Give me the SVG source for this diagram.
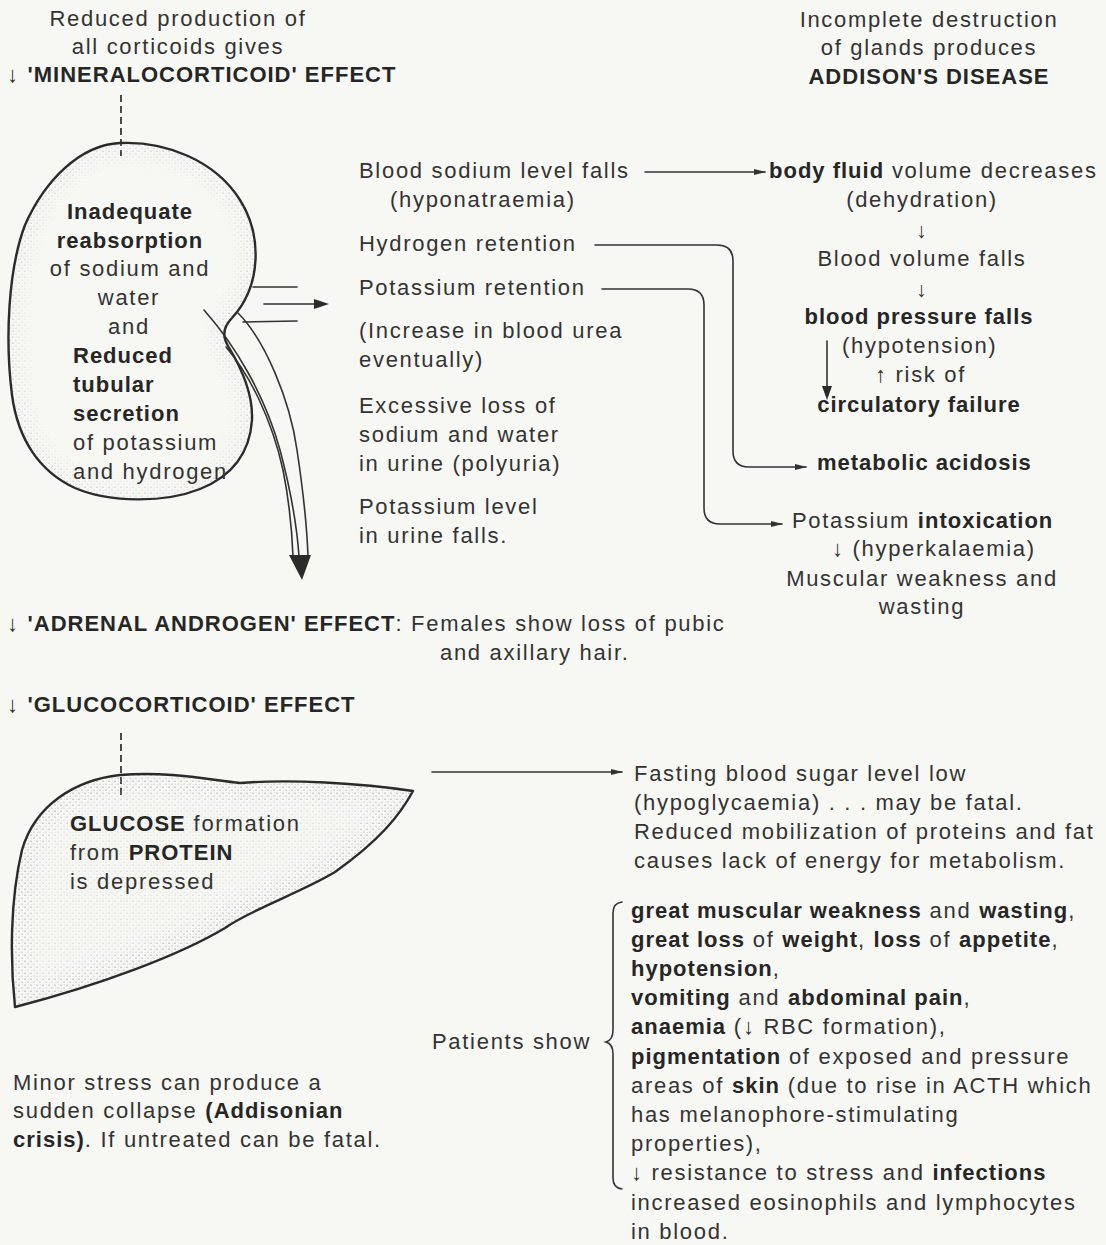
<svg xmlns="http://www.w3.org/2000/svg" width="1106" height="1245" viewBox="0 0 1106 1245">
  <defs>
    <style>
      text { font-family: "Liberation Sans", Arial, Helvetica, sans-serif; font-size: 22px; fill: #333; letter-spacing: 1.7px; }
      .b { font-weight: bold; letter-spacing: 1px; fill: #262626; }
      .c { text-anchor: middle; }
      .ln { fill: none; stroke: #333; stroke-width: 1.6; stroke-linecap: round; }
      .organ { stroke: #2b2b2b; stroke-width: 2.4; stroke-linejoin: round; }
      .dash { fill: none; stroke: #383838; stroke-width: 1.8; stroke-dasharray: 7 4; }
    </style>
    <pattern id="stipple" width="6" height="6" patternUnits="userSpaceOnUse">
      <circle cx="1" cy="1.2" r="0.6" fill="#8a8a8a"/>
      <circle cx="4" cy="4.1" r="0.55" fill="#9a9a9a"/>
      <circle cx="4.3" cy="0.9" r="0.4" fill="#b0b0b0"/>
      <circle cx="1.5" cy="4.6" r="0.4" fill="#b5b5b5"/>
    </pattern>
    <filter id="soft" x="-20%" y="-20%" width="140%" height="140%">
      <feGaussianBlur stdDeviation="8"/>
    </filter>
    <marker id="ah" viewBox="0 0 12 8" refX="11" refY="4" markerWidth="12" markerHeight="8" markerUnits="userSpaceOnUse" orient="auto">
      <path d="M0 1 L12 4 L0 7 Z" fill="#333"/>
    </marker>
    <!-- outline shapes reused for fill, edge-shading mask and stroke -->
    <path id="kidneyShape" d="M120 143 C165 141 215 160 240 200 C262 235 262 285 232 318 C224 326 222 336 228 346 C244 372 253 398 252 420 C250 450 235 475 200 489 C165 503 110 503 75 488 C40 472 18 440 12 395 C5 340 8 270 25 225 C45 180 80 145 120 143 Z"/>
    <path id="liverShape" d="M15 1007 C10 960 10 900 22 850 C35 805 75 780 120 775 C170 771 210 780 240 783 C290 779 360 783 413 791 C400 815 380 840 335 872 C300 893 250 910 225 928 C180 955 100 985 15 1007 Z"/>
    <mask id="kidneyEdge" maskUnits="userSpaceOnUse" x="0" y="100" width="340" height="440">
      <use href="#kidneyShape" fill="none" stroke="#bbb" stroke-width="26" filter="url(#soft)"/>
    </mask>
    <mask id="liverEdge" maskUnits="userSpaceOnUse" x="0" y="740" width="450" height="300">
      <use href="#liverShape" fill="#666"/>
      <use href="#liverShape" fill="none" stroke="#fff" stroke-width="40" filter="url(#soft)"/>
    </mask>
    <clipPath id="kidneyClip"><use href="#kidneyShape"/></clipPath>
    <clipPath id="liverClip"><use href="#liverShape"/></clipPath>
  </defs>

  <rect width="1106" height="1245" fill="#f7f7f4"/>

  <!-- headings -->
  <g id="heading-left">
    <text class="c" x="178" y="26">Reduced production of</text>
    <text class="c" x="178" y="54">all corticoids gives</text>
    <text x="7" y="82">↓ <tspan class="b">'MINERALOCORTICOID' EFFECT</tspan></text>
  </g>
  <g id="heading-right">
    <text class="c" x="929" y="27">Incomplete destruction</text>
    <text class="c" x="929" y="55">of glands produces</text>
    <text class="c b" x="929" y="84">ADDISON'S DISEASE</text>
  </g>

  <!-- kidney -->
  <g id="kidney">
    <line class="dash" x1="121" y1="95" x2="121" y2="156"/>
    <rect x="0" y="130" width="300" height="390" fill="url(#stipple)" clip-path="url(#kidneyClip)" mask="url(#kidneyEdge)"/>
    <use href="#kidneyShape" class="organ" fill="none"/>
    <!-- ureter -->
    <path class="ln" d="M238 313 C265 340 290 400 297 450 C303 490 307 528 308 556"/>
    <path class="ln" d="M204 310 C235 345 265 395 280 450 C292 495 297 528 299 556" stroke-width="3.2"/>
    <path class="ln" d="M226 347 C250 375 272 420 283 470 C290 505 292 532 293 556"/>
    <path d="M289 555 L311 555 L302 580 Z" fill="#2b2b2b"/>
    <!-- vessels at the hilum -->
    <line class="ln" x1="253" y1="287" x2="297" y2="287"/>
    <line class="ln" x1="243" y1="322" x2="297" y2="321"/>
    <line class="ln" x1="264" y1="304" x2="316" y2="304" stroke-width="3"/>
    <path d="M314 299 L329 304 L314 309 Z" fill="#2b2b2b"/>
    <text class="c b" x="130" y="219">Inadequate</text>
    <text class="c b" x="130" y="248">reabsorption</text>
    <text class="c" x="130" y="276">of sodium and</text>
    <text class="c" x="129" y="305">water</text>
    <text class="c" x="129" y="334">and</text>
    <text class="b" x="73" y="363">Reduced</text>
    <text class="b" x="73" y="392">tubular</text>
    <text class="b" x="73" y="421">secretion</text>
    <text x="73" y="450">of potassium</text>
    <text x="73" y="479">and hydrogen</text>
  </g>

  <!-- renal effects -->
  <g id="renal-effects">
    <text x="359" y="178">Blood sodium level falls</text>
    <text x="390" y="207">(hyponatraemia)</text>
    <text x="359" y="251">Hydrogen retention</text>
    <text x="359" y="295">Potassium retention</text>
    <text x="359" y="338">(Increase in blood urea</text>
    <text x="359" y="367">eventually)</text>
    <text x="359" y="413">Excessive loss of</text>
    <text x="359" y="442">sodium and water</text>
    <text x="359" y="471">in urine (polyuria)</text>
    <text x="359" y="514">Potassium level</text>
    <text x="359" y="543">in urine falls.</text>
  </g>

  <g id="circulation">
    <text x="769" y="178"><tspan class="b">body fluid</tspan> volume decreases</text>
    <text class="c" x="922" y="207">(dehydration)</text>
    <text class="c" x="922" y="238" style="font-size:21px">↓</text>
    <text class="c" x="922" y="266">Blood volume falls</text>
    <text class="c" x="922" y="297" style="font-size:21px">↓</text>
    <text class="c b" x="919" y="324">blood pressure falls</text>
    <text x="842" y="353">(hypotension)</text>
    <text x="875" y="382">↑ risk of</text>
    <text class="c b" x="919" y="412">circulatory failure</text>
    <line class="ln" x1="827" y1="341" x2="827" y2="388" stroke-width="2"/>
    <path d="M822 386 L832 386 L827 400 Z" fill="#2b2b2b"/>
  </g>

  <g id="acidosis">
    <text class="b" x="817" y="470">metabolic acidosis</text>
  </g>

  <g id="hyperkalaemia">
    <text x="792" y="528">Potassium <tspan class="b">intoxication</tspan></text>
    <text x="832" y="556">↓ (hyperkalaemia)</text>
    <text class="c" x="922" y="586">Muscular weakness and</text>
    <text class="c" x="922" y="614">wasting</text>
  </g>

  <g id="androgen">
    <text x="7" y="631">↓ <tspan class="b">'ADRENAL ANDROGEN' EFFECT</tspan>: Females show loss of pubic</text>
    <text x="440" y="660">and axillary hair.</text>
  </g>

  <!-- liver -->
  <g id="liver">
    <text x="7" y="712">↓ <tspan class="b">'GLUCOCORTICOID' EFFECT</tspan></text>
    <line class="dash" x1="121" y1="733" x2="121" y2="797"/>
    <rect x="0" y="760" width="430" height="260" fill="url(#stipple)" clip-path="url(#liverClip)" mask="url(#liverEdge)"/>
    <use href="#liverShape" class="organ" fill="none"/>
    <text x="70" y="831"><tspan class="b">GLUCOSE</tspan> formation</text>
    <text x="70" y="860">from <tspan class="b">PROTEIN</tspan></text>
    <text x="70" y="889">is depressed</text>
  </g>

  <g id="hypoglycaemia">
    <text x="634" y="781">Fasting blood sugar level low</text>
    <text x="634" y="810">(hypoglycaemia) . . . may be fatal.</text>
    <text x="634" y="839">Reduced mobilization of proteins and fat</text>
    <text x="634" y="868">causes lack of energy for metabolism.</text>
  </g>

  <g id="crisis">
    <text x="13" y="1090">Minor stress can produce a</text>
    <text x="13" y="1118">sudden collapse <tspan class="b">(Addisonian</tspan></text>
    <text x="13" y="1147"><tspan class="b">crisis)</tspan>. If untreated can be fatal.</text>
  </g>

  <g id="symptoms">
    <text x="432" y="1049">Patients show</text>
    <path class="ln" d="M622 902 Q613 903 613 913 V1030 Q613 1040 606 1042 Q613 1044 613 1054 V1178 Q613 1188 622 1189" stroke-width="1.5"/>
    <text x="631" y="918"><tspan class="b">great muscular weakness</tspan> and <tspan class="b">wasting</tspan>,</text>
    <text x="631" y="947"><tspan class="b">great loss</tspan> of <tspan class="b">weight</tspan>, <tspan class="b">loss</tspan> of <tspan class="b">appetite</tspan>,</text>
    <text x="631" y="976"><tspan class="b">hypotension</tspan>,</text>
    <text x="631" y="1005"><tspan class="b">vomiting</tspan> and <tspan class="b">abdominal pain</tspan>,</text>
    <text x="631" y="1034"><tspan class="b">anaemia</tspan> (↓ RBC formation),</text>
    <text x="631" y="1064"><tspan class="b">pigmentation</tspan> of exposed and pressure</text>
    <text x="631" y="1093">areas of <tspan class="b">skin</tspan> (due to rise in ACTH which</text>
    <text x="631" y="1122">has melanophore-stimulating</text>
    <text x="631" y="1151">properties),</text>
    <text x="631" y="1180">↓ resistance to stress and <tspan class="b">infections</tspan></text>
    <text x="631" y="1210">increased eosinophils and lymphocytes</text>
    <text x="631" y="1239">in blood.</text>
  </g>

  <!-- connectors -->
  <g id="connectors">
    <line class="ln" x1="645" y1="172" x2="765" y2="172" marker-end="url(#ah)"/>
    <path class="ln" d="M595 245 H717 Q733 245 733 261 V451 Q733 467 749 467 H806" marker-end="url(#ah)"/>
    <path class="ln" d="M602 289 H688 Q704 289 704 305 V508 Q704 524 720 524 H782" marker-end="url(#ah)"/>
    <line class="ln" x1="432" y1="772" x2="622" y2="772" marker-end="url(#ah)"/>
  </g>
</svg>
